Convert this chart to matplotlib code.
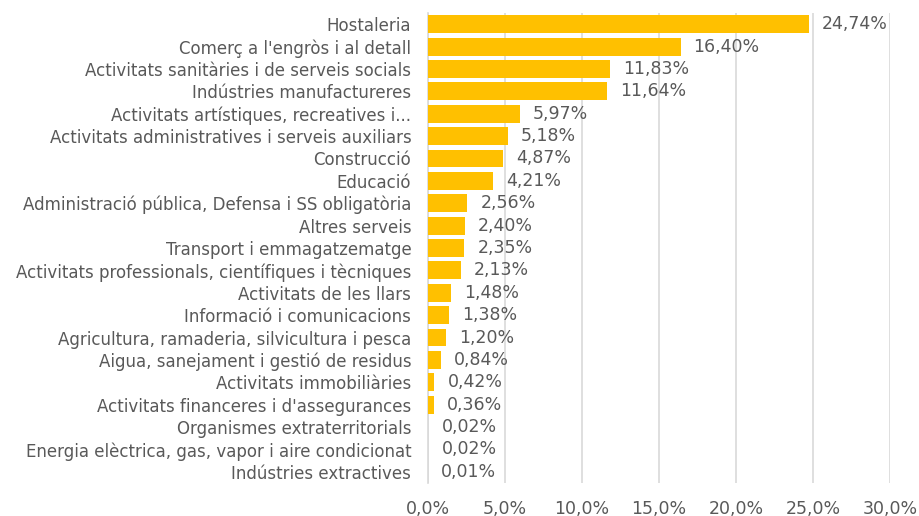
import matplotlib.pyplot as plt
from matplotlib.ticker import MultipleLocator, FuncFormatter

sectors = [
    "Hostaleria",
    "Comerç a l'engròs i al detall",
    "Activitats sanitàries i de serveis socials",
    "Indústries manufactureres",
    "Activitats artístiques, recreatives i...",
    "Activitats administratives i serveis auxiliars",
    "Construcció",
    "Educació",
    "Administració pública, Defensa i SS obligatòria",
    "Altres serveis",
    "Transport i emmagatzematge",
    "Activitats professionals, científiques i tècniques",
    "Activitats de les llars",
    "Informació i comunicacions",
    "Agricultura, ramaderia, silvicultura i pesca",
    "Aigua, sanejament i gestió de residus",
    "Activitats immobiliàries",
    "Activitats financeres i d'assegurances",
    "Organismes extraterritorials",
    "Energia elèctrica, gas, vapor i aire condicionat",
    "Indústries extractives",
]
shares = [24.74, 16.40, 11.83, 11.64, 5.97, 5.18, 4.87, 4.21, 2.56, 2.40,
          2.35, 2.13, 1.48, 1.38, 1.20, 0.84, 0.42, 0.36, 0.02, 0.02, 0.01]

plt.rcParams['font.family'] = ['DejaVu Sans']
txt = '#595959'

fig = plt.figure(figsize=(9.19, 5.16), dpi=100)
ax = fig.add_axes([0.4657, 0.064, 0.5027, 0.9108])

pos = list(range(len(sectors)))
ax.barh(pos, shares, height=0.8, color='#FFC000', zorder=3)
for p, v in zip(pos, shares):
    ax.text(v + 0.85, p, f"{v:.2f}%".replace('.', ','), va='center', ha='left',
            fontsize=12.5, color=txt, zorder=4)

ax.set_ylim(len(sectors) - 0.5, -0.5)
ax.set_yticks(pos)
ax.set_yticklabels(sectors, fontsize=12, color=txt)
ax.set_xlim(0, 30)
ax.xaxis.set_major_locator(MultipleLocator(5))
ax.xaxis.set_major_formatter(FuncFormatter(lambda x, _: f"{x:.1f}%".replace('.', ',')))
ax.tick_params(axis='x', length=0, pad=12, labelsize=12.5, labelcolor=txt)
ax.tick_params(axis='y', length=0, pad=12)
ax.grid(axis='x', color='#D9D9D9', linewidth=1.2, zorder=0)
for s in ['top', 'right', 'bottom']:
    ax.spines[s].set_visible(False)
ax.spines['left'].set_color('#D9D9D9')
ax.spines['left'].set_linewidth(1.2)
ax.spines['left'].set_zorder(2)

fig.savefig('out.png', dpi=100)
